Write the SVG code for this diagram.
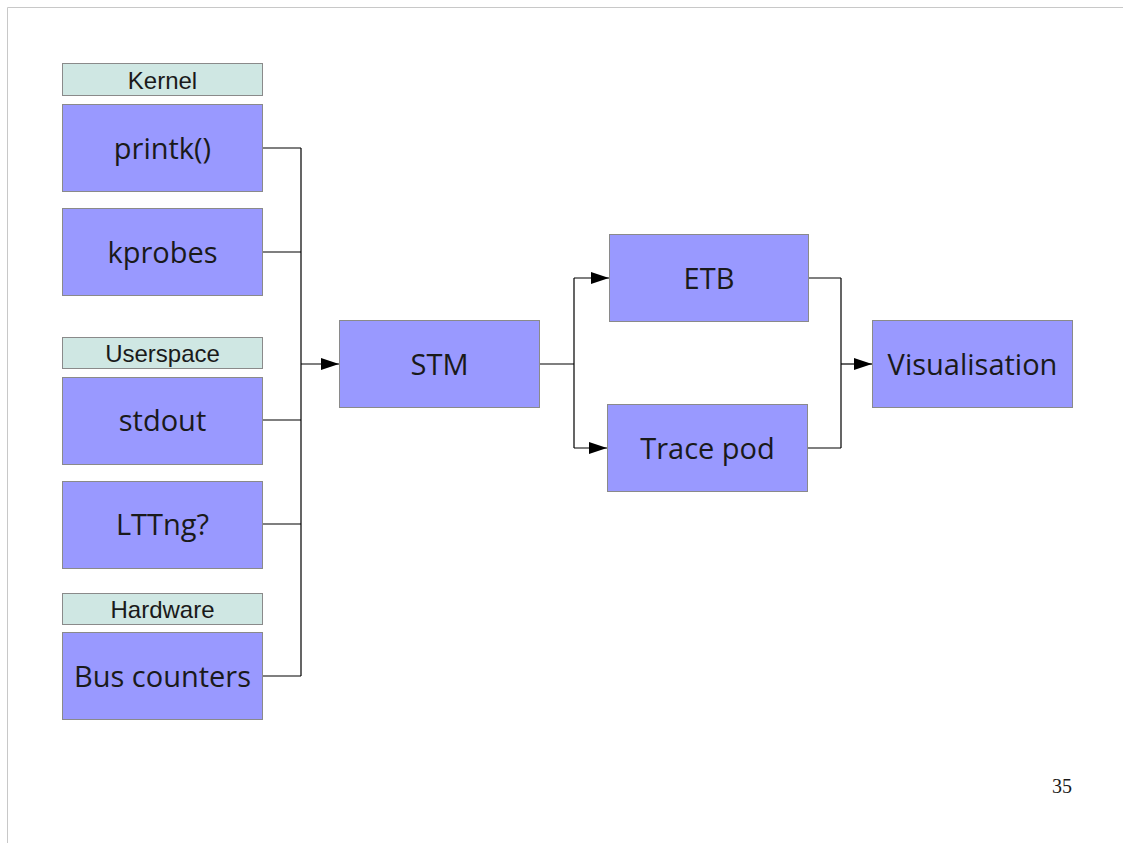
<svg xmlns="http://www.w3.org/2000/svg" width="1123" height="843" viewBox="0 0 1123 843">
<style>
.box{fill:#9999ff;stroke:#8a8a8a;stroke-width:1}
.lab{fill:#cfe7e3;stroke:#8a8a8a;stroke-width:1}
.t{font-family:"Open Sans",sans-serif;font-size:29px;fill:#1a1a1a;text-anchor:middle}
.s{font-family:"Liberation Sans",Arial,sans-serif;font-size:24px;fill:#1a1a1a;text-anchor:middle}
.c{fill:none;stroke:#000;stroke-width:1.2}
</style>
<defs>
<marker id="ah" markerWidth="18" markerHeight="12" refX="18" refY="6" orient="auto" markerUnits="userSpaceOnUse">
<path d="M0,0 L18,6 L0,12 Z" fill="#000"/>
</marker>
</defs>
<rect width="1123" height="843" fill="#fff"/>
<path d="M7.5,843 L7.5,7.5 L1123,7.5" fill="none" stroke="#c8c8c8" stroke-width="1"/>
<g id="connectors">
<path class="c" d="M263,148 H301 M263,252 H301 M263,420 H301 M263,524 H301 M263,676 H301 M301,148 V676"/>
<path class="c" d="M301,364 H339" marker-end="url(#ah)"/>
<path class="c" d="M540,364 H574 M574,278 V448"/>
<path class="c" d="M574,278 H609" marker-end="url(#ah)"/>
<path class="c" d="M574,448 H607" marker-end="url(#ah)"/>
<path class="c" d="M809,278 H841 M808,448 H841 M841,278 V448"/>
<path class="c" d="M841,364 H872" marker-end="url(#ah)"/>
</g>
<g id="kernel-label"><rect class="lab" x="62.5" y="63.5" width="200" height="32"/><text class="s" x="162.5" y="89">Kernel</text></g>
<g id="printk"><rect class="box" x="62.5" y="104.5" width="200" height="87"/><text class="t" x="162.5" y="159">printk()</text></g>
<g id="kprobes"><rect class="box" x="62.5" y="208.5" width="200" height="87"/><text class="t" x="162.5" y="263">kprobes</text></g>
<g id="userspace-label"><rect class="lab" x="62.5" y="337.5" width="200" height="31"/><text class="s" x="162.5" y="362">Userspace</text></g>
<g id="stdout"><rect class="box" x="62.5" y="377.5" width="200" height="87"/><text class="t" x="162.5" y="431">stdout</text></g>
<g id="lttng"><rect class="box" x="62.5" y="481.5" width="200" height="87"/><text class="t" x="162.5" y="535">LTTng?</text></g>
<g id="hardware-label"><rect class="lab" x="62.5" y="593.5" width="200" height="31"/><text class="s" x="162.5" y="618">Hardware</text></g>
<g id="bus-counters"><rect class="box" x="62.5" y="632.5" width="200" height="87"/><text class="t" x="162.5" y="687">Bus counters</text></g>
<g id="stm"><rect class="box" x="339.5" y="320.5" width="200" height="87"/><text class="t" x="439.5" y="375">STM</text></g>
<g id="etb"><rect class="box" x="609.5" y="234.5" width="199" height="87"/><text class="t" x="709" y="289">ETB</text></g>
<g id="trace-pod"><rect class="box" x="607.5" y="404.5" width="200" height="87"/><text class="t" x="707.5" y="459">Trace pod</text></g>
<g id="visualisation"><rect class="box" x="872.5" y="320.5" width="200" height="87"/><text class="t" x="972.5" y="375">Visualisation</text></g>
<text x="1062" y="793" font-family="Liberation Serif,serif" font-size="20" text-anchor="middle" fill="#1a1a1a">35</text>
</svg>
